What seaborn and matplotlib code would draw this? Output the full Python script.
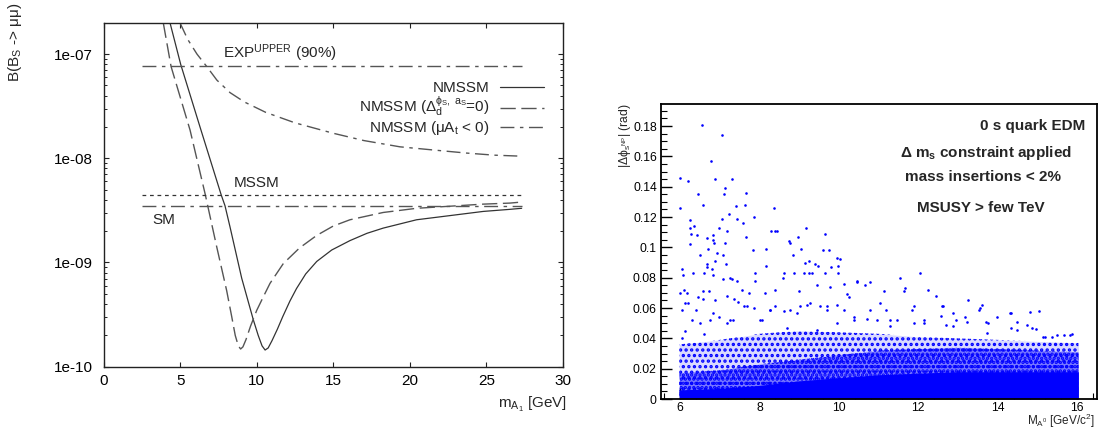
import numpy as np
import pandas as pd
import matplotlib
matplotlib.use("Agg")
import matplotlib.pyplot as plt
import seaborn as sns
from matplotlib.ticker import FixedLocator, FixedFormatter, MultipleLocator, LogLocator, NullFormatter

# ---------------- Left panel data ----------------
level_x = [2.5, 27.3]
exp_level = [7.6e-8, 7.6e-8]
mssm_level = [4.45e-9, 4.45e-9]
sm_level = [3.5e-9, 3.5e-9]

nmssm_x = [4.34, 5.04, 6.30, 7.68, 7.93, 8.26, 9.02, 9.78, 10.1, 10.35, 10.55, 10.75, 11.0, 11.35,
           11.7, 12.17, 12.6, 13.2, 13.92, 14.9, 16.09, 17.2, 18.26, 20.44, 22.62, 24.79, 26.53, 27.3]
nmssm_log = [-6.70, -7.10, -7.70, -8.35, -8.455, -8.66, -9.15, -9.55, -9.70, -9.80, -9.84, -9.82, -9.75,
             -9.64, -9.52, -9.37, -9.25, -9.11, -8.99, -8.88, -8.79, -8.72, -8.67, -8.59, -8.55, -8.51,
             -8.49, -8.48]

nmssm_d0_x = [3.90, 4.41, 5.65, 6.63, 7.39, 8.04, 8.37, 8.6, 8.8, 8.95, 9.1, 9.3, 9.6, 10.0, 10.43,
              10.87, 11.74, 12.8, 13.92, 15.0, 16.09, 18.26, 20.44, 22.62, 24.79, 26.53, 27.3]
nmssm_d0_log = [-6.70, -7.12, -7.73, -8.34, -8.85, -9.27, -9.52, -9.70, -9.80, -9.83, -9.81, -9.74,
                -9.61, -9.46, -9.33, -9.20, -9.01, -8.86, -8.74, -8.65, -8.59, -8.52, -8.48, -8.46,
                -8.44, -8.43, -8.42]

nmssm_mu_x = [4.99, 5.5, 6.1, 6.74, 7.4, 8.26, 9.2, 10.6, 12.5, 15.0, 17.0, 19.35, 21.5, 23.7, 25.5, 27.3]
nmssm_mu_log = [-6.70, -6.86, -7.00, -7.12, -7.25, -7.37, -7.46, -7.56, -7.66, -7.76, -7.83, -7.89,
                -7.92, -7.95, -7.97, -7.98]

left_yticks = [1e-10, 1e-9, 1e-8, 1e-7]
left_yticklabels = ["1e-10", "1e-09", "1e-08", "1e-07"]
left_xticks = [0, 5, 10, 15, 20, 25, 30]

# ---------------- Right panel data ----------------
pts_x = [6.01, 6.01, 6.21, 6.56, 7.06, 6.79, 6.89, 7.30, 7.13, 7.10, 6.46, 6.58, 6.24, 6.24, 6.27, 6.34,
         6.42, 6.24, 6.67, 6.82, 6.82, 6.85, 6.97, 7.05, 7.19, 7.24, 7.40, 7.44, 7.59, 7.64, 7.67, 7.67,
         7.85, 7.13, 6.50, 6.71, 6.93, 7.09, 7.16, 6.67, 6.68, 6.80, 6.82, 6.87, 6.04, 6.08, 6.32, 6.61,
         7.08, 7.25, 7.31, 7.43, 7.84, 7.88, 7.88, 8.16, 8.17, 8.36, 8.29, 8.40, 8.45, 8.75, 8.77, 8.84,
         8.98, 9.04, 9.17, 9.14, 9.24, 9.12, 9.24, 9.33, 9.41, 9.47, 9.66, 9.61, 9.74, 9.79, 9.94, 9.97,
         10.03, 9.97, 8.61, 8.59, 8.87, 9.66, 10.45, 10.45, 10.66, 10.79, 11.55, 12.05, 11.67, 11.63,
         11.14, 12.24, 12.45, 13.24, 13.61, 13.52, 14.34, 15.05, 12.60, 12.87, 11.85, 11.18, 10.12, 10.20,
         10.25, 9.78, 9.45, 8.99, 8.40, 8.14, 7.73, 7.55, 6.00, 6.09, 6.18, 6.21, 6.06, 6.39, 6.46, 6.58,
         6.87, 6.57, 6.72, 7.17, 7.36, 7.46, 14.49, 14.74, 13.71, 13.99, 14.87, 14.97, 15.49, 15.66, 15.87,
         15.18, 15.36, 14.33, 12.94, 12.69, 13.22, 13.75, 13.18, 12.57, 12.13, 11.90, 11.46, 11.29, 10.96,
         10.71, 10.39, 10.12, 9.95, 9.71, 9.53, 9.28, 9.03, 8.77, 8.61, 8.39, 8.27, 8.06, 7.85, 7.60, 7.34,
         7.18, 6.97, 6.76, 6.50, 6.29, 6.13, 6.05,
         6.13, 6.59, 6.84, 7.26, 7.68, 8.02, 8.27, 8.69, 8.94, 9.19, 9.44, 9.70, 9.95, 10.37, 10.79,
         11.04, 11.88, 12.63, 13.56, 14.31, 14.82, 11.29, 12.13, 12.88, 13.73, 14.48, 15.15, 15.82]
pts_y = [0.146, 0.126, 0.144, 0.181, 0.174, 0.157, 0.145, 0.145, 0.139, 0.135, 0.135, 0.128, 0.118, 0.113,
         0.109, 0.114, 0.108, 0.102, 0.106, 0.108, 0.105, 0.103, 0.113, 0.119, 0.111, 0.122, 0.127, 0.119,
         0.116, 0.128, 0.136, 0.107, 0.120, 0.103, 0.095, 0.099, 0.096, 0.095, 0.089, 0.089, 0.087, 0.086,
         0.082, 0.091, 0.086, 0.082, 0.083, 0.083, 0.079, 0.080, 0.079, 0.078, 0.098, 0.083, 0.078, 0.099,
         0.088, 0.126, 0.111, 0.111, 0.111, 0.104, 0.103, 0.095, 0.107, 0.099, 0.113, 0.090, 0.091, 0.083,
         0.083, 0.083, 0.089, 0.088, 0.109, 0.098, 0.098, 0.087, 0.093, 0.088, 0.092, 0.083, 0.083, 0.080,
         0.083, 0.083, 0.078, 0.077, 0.075, 0.077, 0.080, 0.083, 0.073, 0.071, 0.071, 0.072, 0.068, 0.065,
         0.062, 0.059, 0.057, 0.058, 0.061, 0.057, 0.059, 0.059, 0.076, 0.069, 0.067, 0.074, 0.075, 0.071,
         0.072, 0.070, 0.070, 0.072, 0.070, 0.072, 0.070, 0.063, 0.059, 0.059, 0.067, 0.066, 0.065, 0.071,
         0.071, 0.068, 0.066, 0.064, 0.051, 0.049, 0.051, 0.054, 0.047, 0.046, 0.042, 0.042, 0.043, 0.041,
         0.041, 0.047, 0.052, 0.049, 0.051, 0.050, 0.054, 0.055, 0.052, 0.050, 0.052, 0.048, 0.052, 0.053,
         0.054, 0.059, 0.062, 0.059, 0.061, 0.063, 0.061, 0.059, 0.058, 0.061, 0.059, 0.052, 0.060, 0.061,
         0.052, 0.050, 0.054, 0.052, 0.050, 0.052, 0.045, 0.040,
         0.063, 0.043, 0.0565, 0.052, 0.061, 0.052, 0.0587, 0.0466, 0.0565, 0.062, 0.0455, 0.061, 0.050,
         0.052, 0.0587, 0.063, 0.061, 0.061, 0.060, 0.0565, 0.0576, 0.052, 0.050, 0.048, 0.0433, 0.0455,
         0.041, 0.042]

# density envelope of the saturated point cloud near zero
band_x = [5.98, 7.0, 8.0, 9.0, 10.0, 11.0, 12.0, 13.0, 14.0, 15.0, 16.03]
band_solid = [0.006, 0.007, 0.009, 0.012, 0.014, 0.016, 0.017, 0.018, 0.018, 0.018, 0.018]
band_dense = [0.017, 0.019, 0.023, 0.026, 0.029, 0.032, 0.033, 0.034, 0.033, 0.032, 0.031]
band_speck = [0.036, 0.039, 0.043, 0.045, 0.044, 0.043, 0.041, 0.040, 0.039, 0.038, 0.037]

right_yticks = [0, 0.02, 0.04, 0.06, 0.08, 0.1, 0.12, 0.14, 0.16, 0.18]
right_yticklabels = ["0", "0.02", "0.04", "0.06", "0.08", "0.1", "0.12", "0.14", "0.16", "0.18"]
right_xticks = [6, 8, 10, 12, 14, 16]

# ---------------- Style ----------------
sns.set_style("ticks")
plt.rcParams['font.family'] = ['Liberation Sans', 'DejaVu Sans']
plt.rcParams['mathtext.fontset'] = 'custom'
plt.rcParams['mathtext.rm'] = 'Liberation Sans'
plt.rcParams['mathtext.it'] = 'Liberation Sans'
plt.rcParams['mathtext.bf'] = 'Liberation Sans:bold'
plt.rcParams['hatch.linewidth'] = 1.6

fig = plt.figure(figsize=(11.05, 4.29), dpi=100)
fig.patch.set_facecolor('white')
ax1 = fig.add_axes([0.0937, 0.1452, 0.4158, 0.8019])
ax2 = fig.add_axes([0.5982, 0.0699, 0.3946, 0.6876])

# ---------------- Left panel ----------------
dash_long = (0, (11, 4))
dash_dot = (0, (10, 4, 2.5, 4))
dotted = (0, (3, 3))
gray_dark = '#333333'
gray_mid = '#555555'

sns.lineplot(x=nmssm_x, y=10 ** np.array(nmssm_log), ax=ax1, color=gray_dark, lw=0.9,
             sort=False, estimator=None, label="NMSSM")
sns.lineplot(x=nmssm_d0_x, y=10 ** np.array(nmssm_d0_log), ax=ax1, color=gray_mid, lw=1.0,
             linestyle=dash_long, sort=False, estimator=None,
             label=r"NMSSM ($\Delta_{\mathrm{d}}^{\phi_{\mathrm{S}},\ a_{\mathrm{S}}}$=0)")
sns.lineplot(x=nmssm_mu_x, y=10 ** np.array(nmssm_mu_log), ax=ax1, color=gray_mid, lw=1.0,
             linestyle=dash_dot, sort=False, estimator=None,
             label=r"NMSSM ($\mu\mathrm{A}_{\mathrm{t}}$ < 0)")
sns.lineplot(x=level_x, y=exp_level, ax=ax1, color=gray_mid, lw=1.0, linestyle=dash_dot,
             estimator=None, legend=False)
sns.lineplot(x=level_x, y=mssm_level, ax=ax1, color=gray_dark, lw=0.9, linestyle=dotted,
             estimator=None, legend=False)
sns.lineplot(x=level_x, y=sm_level, ax=ax1, color=gray_mid, lw=1.0, linestyle=dash_dot,
             estimator=None, legend=False)

ax1.set_yscale('log')
ax1.set_xlim(0, 30)
ax1.set_ylim(1e-10, 2.0e-7)
ax1.yaxis.set_major_locator(FixedLocator(left_yticks))
ax1.yaxis.set_major_formatter(FixedFormatter(left_yticklabels))
ax1.yaxis.set_minor_locator(LogLocator(base=10, subs=np.arange(2, 10), numticks=20))
ax1.yaxis.set_minor_formatter(NullFormatter())
ax1.xaxis.set_major_locator(FixedLocator(left_xticks))
ax1.tick_params(which='both', direction='in', top=True, right=True, labelsize=11,
                colors='#222222', labelcolor='black')
ax1.tick_params(axis='y', which='major', length=3.5, width=0.8, pad=7.5)
ax1.tick_params(axis='y', which='minor', length=2.2, width=0.7)
ax1.tick_params(axis='x', which='major', length=3.5, width=0.8, pad=5)
for s in ax1.spines.values():
    s.set_linewidth(1.0)
    s.set_color('#222222')

ax1.text(7.8, 8.1e-8, r"EXP$^{\mathrm{UPPER}}$ (90%)", fontsize=11, ha='left', va='bottom')
ax1.text(8.5, 5.0e-9, "MSSM", fontsize=11, ha='left', va='bottom')
ax1.text(3.2, 3.0e-9, "SM", fontsize=11, ha='left', va='top')

leg = ax1.legend(loc='upper right', bbox_to_anchor=(0.9576, 0.830), frameon=False,
                 markerfirst=False, fontsize=11, handlelength=2.85, handletextpad=0.7,
                 labelspacing=0.0, borderaxespad=0, borderpad=0)

ax1.set_xlabel(r"m$_{\mathrm{A_1}}$ [GeV]", fontsize=11, ha='right', va='center')
ax1.xaxis.set_label_coords(1.0087, -0.111)
ax1.set_ylabel(r"B(B$_{\mathrm{S}}$ -> $\mu\mu$)", fontsize=11, ha='right', va='center')
ax1.yaxis.set_label_coords(-0.1926, 1.057)

# ---------------- Right panel ----------------
ax2.fill_between(band_x, 0, band_speck, facecolor='none', edgecolor='blue', hatch='...', lw=0)
ax2.fill_between(band_x, 0, band_speck, color='blue', alpha=0.15, lw=0)
ax2.fill_between(band_x, 0, band_dense, facecolor='none', edgecolor='blue', hatch='....', lw=0)
ax2.fill_between(band_x, 0, band_dense, color='blue', alpha=0.45, lw=0)
ax2.fill_between(band_x, 0, band_solid, color='blue', alpha=1.0, lw=0)
sns.scatterplot(x=pts_x, y=pts_y, ax=ax2, color='blue', s=3.5, linewidth=0, legend=False)

ax2.set_xlim(5.52, 16.5)
ax2.set_ylim(0, 0.1945)
ax2.yaxis.set_major_locator(FixedLocator(right_yticks))
ax2.yaxis.set_major_formatter(FixedFormatter(right_yticklabels))
ax2.yaxis.set_minor_locator(MultipleLocator(0.005))
ax2.xaxis.set_major_locator(FixedLocator(right_xticks))
ax2.xaxis.set_minor_locator(MultipleLocator(0.4))
ax2.tick_params(which='both', direction='in', labelsize=8.7, colors='black')
ax2.tick_params(axis='y', which='major', length=8, width=1.0, pad=3)
ax2.tick_params(axis='y', which='minor', length=4, width=0.8)
ax2.tick_params(axis='x', which='major', length=8, width=1.0, pad=2)
ax2.tick_params(axis='x', which='minor', length=4, width=0.8)
for s in ax2.spines.values():
    s.set_linewidth(1.3)
    s.set_color('black')

ax2.text(0.9725, 0.9254, "0 s quark EDM", transform=ax2.transAxes, fontsize=11,
         fontweight='bold', ha='right', va='center')
ax2.text(0.746, 0.833, r"Δ m$_{\mathbf{s}}$ constraint applied", transform=ax2.transAxes,
         fontsize=11, fontweight='bold', ha='center', va='center')
ax2.text(0.738, 0.7515, "mass insertions < 2%", transform=ax2.transAxes, fontsize=11,
         fontweight='bold', ha='center', va='center')
ax2.text(0.733, 0.6464, "MSUSY > few TeV", transform=ax2.transAxes, fontsize=11,
         fontweight='bold', ha='center', va='center')

ax2.set_xlabel(r"M$_{\mathrm{A^0}}$ [GeV/c$^2$]", fontsize=8.5, ha='right', va='center')
ax2.xaxis.set_label_coords(0.9954, -0.0735)
ax2.set_ylabel(r"|$\Delta\phi_{\mathrm{s^{NP}}}$| (rad)", fontsize=8.7, ha='right', va='center')
ax2.yaxis.set_label_coords(-0.083, 1.003)

fig.savefig("out.png", dpi=100)
